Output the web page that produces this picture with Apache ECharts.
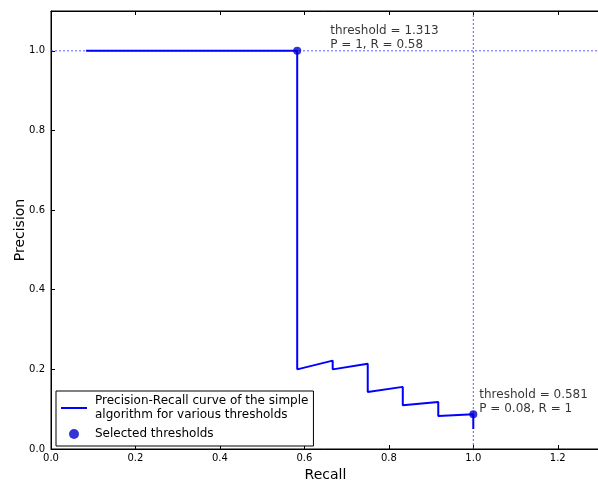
<!DOCTYPE html>
<html>
<head>
<meta charset="utf-8">
<script src="https://cdn.jsdelivr.net/npm/echarts@6/dist/echarts.min.js"></script>
<style>
  html, body { margin: 0; padding: 0; background: #fff; }
</style>
</head>
<body>
<div id="prchart" style="width: 598px; height: 481px"></div>
<script>
// precision-recall curve points (recall, precision)
var recall = [0.083, 0.583, 0.583, 0.667, 0.667, 0.75, 0.75, 0.833, 0.833, 0.917, 0.917, 1.0, 1.0];
var precision = [1.0, 1.0, 0.2, 0.222, 0.2, 0.214, 0.143, 0.156, 0.11, 0.118, 0.083, 0.087, 0.05];

// selected thresholds
var selRecall = [0.583, 1.0];
var selPrecision = [1.0, 0.087];
var selText = ["threshold = 1.313\nP = 1, R = 0.58", "threshold = 0.581\nP = 0.08, R = 1"];

// axis ranges
var xRange = [0, 1.3];
var yRange = [0, 1.1];

var curveName = "Precision-Recall curve of the simple\nalgorithm for various thresholds";
var selName = "Selected thresholds";

var chartPR = echarts.init(document.getElementById("prchart"));

var curveData = recall.map(function (r, i) {
  return [r, precision[i]];
});
var labelPos = [[37, -23], [10, -22]];
var selData = selRecall.map(function (r, i) {
  return {
    value: [r, selPrecision[i]],
    label: {
      show: true,
      formatter: selText[i],
      position: labelPos[i],
      align: "left",
      verticalAlign: "top",
      color: "#000",
      fontSize: 12,
      lineHeight: 14,
      fontFamily: "DejaVu Sans",
    },
  };
});

// dotted guide lines through the selected thresholds
var hGuide = [[xRange[0], selPrecision[0]], [xRange[1], selPrecision[0]]];
var vGuide = [[selRecall[1], yRange[0]], [selRecall[1], yRange[1]]];

var tickFont = { color: "#000", fontSize: 10, fontFamily: "DejaVu Sans" };
var fmt1 = function (v) {
  return v.toFixed(1);
};
var guideStyle = { color: "#3333ff", type: [2, 2], width: 1, opacity: 0.8 };

var option = {
  backgroundColor: "#fff",
  animation: false,
  grid: {
    left: 51,
    top: 11,
    width: 549,
    height: 438,
    outerBoundsMode: "none",
    containLabel: false,
    show: true,
    borderColor: "#000",
    borderWidth: 1,
  },
  legend: {
    orient: "vertical",
    left: 56,
    top: 391,
    padding: [3, 5, 5, 5],
    itemGap: 5,
    itemWidth: 26,
    itemHeight: 10,
    borderColor: "#000",
    borderWidth: 1,
    backgroundColor: "#fff",
    textStyle: { color: "#000", fontSize: 12, lineHeight: 14, fontFamily: "DejaVu Sans", padding: [0, 0, 0, 3] },
    data: [
      { name: curveName, icon: "path://M0,4L26,4L26,6L0,6Z", itemStyle: { color: "#0000ff" } },
      { name: selName, icon: "circle", itemStyle: { color: "#0000cc" } },
    ],
  },
  xAxis: [
    {
      type: "value",
      min: xRange[0],
      max: xRange[1],
      interval: 0.2,
      name: "Recall",
      nameLocation: "middle",
      nameGap: 19,
      nameMoveOverlap: false,
      nameTextStyle: { color: "#000", fontSize: 14, fontFamily: "DejaVu Sans" },
      axisLine: { show: true, lineStyle: { color: "#000" } },
      axisTick: { show: true, inside: true, length: 4, lineStyle: { color: "#000" } },
      axisLabel: Object.assign({ margin: 4, showMaxLabel: false, formatter: fmt1 }, tickFont),
      splitLine: { show: false },
    },
    {
      type: "value",
      position: "top",
      min: xRange[0],
      max: xRange[1],
      interval: 0.2,
      axisLine: { show: true, lineStyle: { color: "#000" } },
      axisTick: { show: true, inside: true, length: 4, lineStyle: { color: "#000" } },
      axisLabel: { show: false },
      splitLine: { show: false },
    },
  ],
  yAxis: [
    {
      type: "value",
      min: yRange[0],
      max: yRange[1],
      interval: 0.2,
      name: "Precision",
      nameLocation: "middle",
      nameGap: 24,
      nameMoveOverlap: false,
      nameTextStyle: { color: "#000", fontSize: 14, fontFamily: "DejaVu Sans" },
      axisLine: { show: true, lineStyle: { color: "#000" } },
      axisTick: { show: true, inside: true, length: 4, lineStyle: { color: "#000" } },
      axisLabel: Object.assign({ margin: 6, showMaxLabel: false, formatter: fmt1 }, tickFont),
      splitLine: { show: false },
    },
  ],
  series: [
    {
      name: "hguide",
      type: "line",
      data: hGuide,
      symbol: "none",
      lineStyle: guideStyle,
      silent: true,
      z: 2,
    },
    {
      name: "vguide",
      type: "line",
      data: vGuide,
      symbol: "none",
      lineStyle: guideStyle,
      silent: true,
      z: 2,
    },
    {
      name: curveName,
      type: "line",
      data: curveData,
      showSymbol: false,
      symbol: "none",
      color: "#0000ff",
      lineStyle: { color: "#0000ff", width: 2 },
      z: 3,
    },
    {
      name: selName,
      type: "scatter",
      data: selData,
      symbol: "circle",
      symbolSize: 8,
      color: "#0000cc",
      itemStyle: { color: "#0000cc" },
      z: 4,
    },
  ],
};
chartPR.setOption(option);
</script>
</body>
</html>
